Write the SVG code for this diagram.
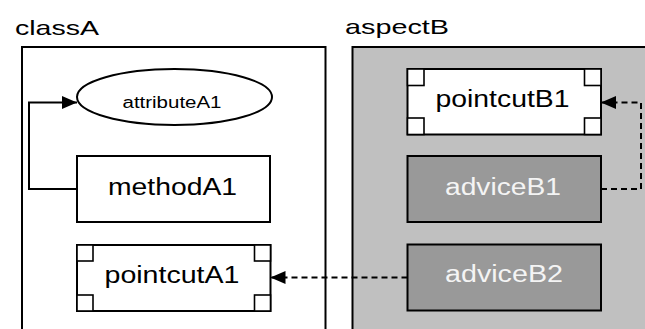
<svg xmlns="http://www.w3.org/2000/svg" width="645" height="329" viewBox="0 0 645 329">
  <defs>
    <style>
      text { font-family: "Liberation Sans", Arial, sans-serif; }
      .title { font-size: 21px; fill: #000; }
      .lbl { font-size: 23px; fill: #000; text-anchor: middle; }
      .lbl-w { font-size: 23px; fill: #f4f4f4; text-anchor: middle; }
      .box { fill: #fff; stroke: #000; stroke-width: 2; }
      .adv { fill: #999; stroke: #000; stroke-width: 2; }
      .corner { fill: #fff; stroke: #000; stroke-width: 1.6; }
      .conn { fill: none; stroke: #000; stroke-width: 2; }
      .dash { fill: none; stroke: #000; stroke-width: 2; stroke-dasharray: 6 4; }
    </style>
    <marker id="arrow" viewBox="0 0 15 13" refX="15" refY="6.5" markerWidth="15" markerHeight="13" markerUnits="userSpaceOnUse" orient="auto">
      <path d="M0,0 L15,6.5 L0,13 Z" fill="#000"/>
    </marker>
  </defs>

  <rect width="645" height="329" fill="#fff"/>

  <!-- container: classA -->
  <g id="classA">
    <text class="title" x="15" y="35" textLength="84" lengthAdjust="spacingAndGlyphs">classA</text>
    <rect x="22" y="47" width="303.5" height="300" fill="#fff" stroke="#000" stroke-width="2"/>
  </g>

  <!-- container: aspectB -->
  <g id="aspectB">
    <text class="title" x="345" y="34" textLength="104" lengthAdjust="spacingAndGlyphs">aspectB</text>
    <rect x="352.5" y="47" width="310" height="300" fill="#c0c0c0" stroke="#000" stroke-width="2"/>
  </g>

  <g id="attributeA1">
    <ellipse cx="174.5" cy="97" rx="97.5" ry="28" class="box"/>
    <text x="172" y="108" font-size="16" text-anchor="middle" textLength="99" lengthAdjust="spacingAndGlyphs">attributeA1</text>
  </g>

  <g id="methodA1">
    <rect x="77" y="156" width="193" height="66" class="box"/>
    <text class="lbl" x="172.5" y="195" textLength="129" lengthAdjust="spacingAndGlyphs">methodA1</text>
  </g>

  <g id="pointcutA1">
    <rect x="77" y="245" width="193.5" height="66" class="box"/>
    <rect x="77" y="245" width="16" height="16" class="corner"/>
    <rect x="254.5" y="245" width="16" height="16" class="corner"/>
    <rect x="77" y="295" width="16" height="16" class="corner"/>
    <rect x="254.5" y="295" width="16" height="16" class="corner"/>
    <text class="lbl" x="172" y="283" textLength="135" lengthAdjust="spacingAndGlyphs">pointcutA1</text>
  </g>

  <g id="pointcutB1">
    <rect x="407.5" y="69" width="193.5" height="65.5" class="box"/>
    <rect x="407.5" y="69" width="16.5" height="16.5" class="corner"/>
    <rect x="584.5" y="69" width="16.5" height="16.5" class="corner"/>
    <rect x="407.5" y="118" width="16.5" height="16.5" class="corner"/>
    <rect x="584.5" y="118" width="16.5" height="16.5" class="corner"/>
    <text class="lbl" x="502.5" y="107" textLength="134" lengthAdjust="spacingAndGlyphs">pointcutB1</text>
  </g>

  <g id="adviceB1">
    <rect x="407.5" y="156" width="193.5" height="66" class="adv"/>
    <text class="lbl-w" x="503" y="195" textLength="116" lengthAdjust="spacingAndGlyphs">adviceB1</text>
  </g>

  <g id="adviceB2">
    <rect x="407.5" y="244.5" width="193.5" height="66" class="adv"/>
    <text class="lbl-w" x="504" y="282" textLength="118" lengthAdjust="spacingAndGlyphs">adviceB2</text>
  </g>

  <g id="connectors">
    <!-- methodA1 -> attributeA1 -->
    <path class="conn" d="M77,189 H29 V102.5 H77" marker-end="url(#arrow)"/>
    <!-- adviceB1 -> pointcutB1 -->
    <path class="dash" d="M601,189 H641 V102.5 H601" marker-end="url(#arrow)"/>
    <!-- adviceB2 -> pointcutA1 -->
    <path class="dash" d="M407.5,277.5 H270.5" marker-end="url(#arrow)"/>
  </g>
</svg>
